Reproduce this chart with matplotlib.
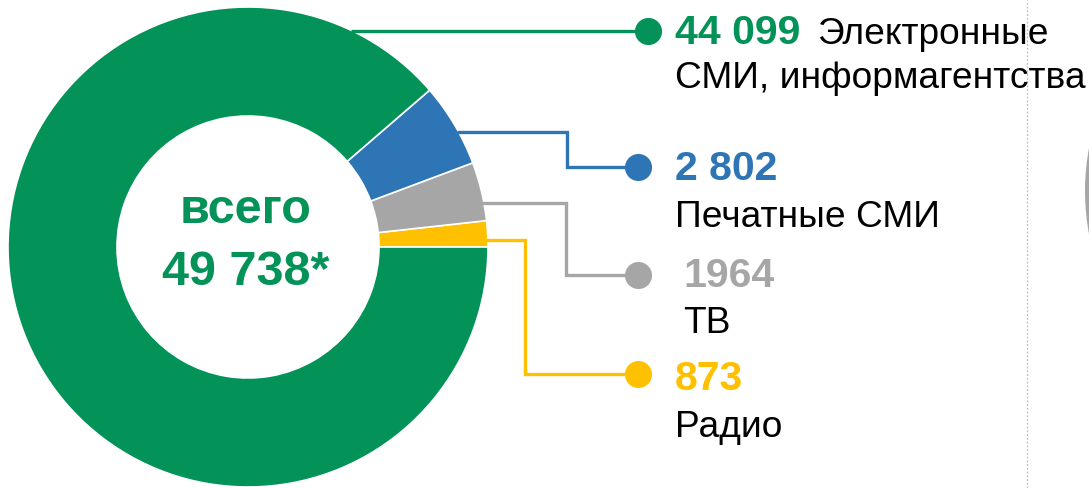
import matplotlib
matplotlib.use('Agg')
import matplotlib.pyplot as plt
import numpy as np

plt.rcParams['font.family'] = ['Liberation Sans', 'DejaVu Sans']

# data (yellow, gray, blue, green - counterclockwise from 3 o'clock)
labels = ['Радио', 'ТВ', 'Печатные СМИ', 'Электронные СМИ, информагентства']
values = [873, 1964, 2802, 44099]
value_labels = ['873', '1964', '2 802', '44 099']
colors = ['#FFC000', '#A6A6A6', '#2E75B6', '#039257']
total = sum(values)

W, H = 1089, 488
fig = plt.figure(figsize=(W / 100, H / 100), dpi=100)
ax = fig.add_axes([0, 0, 1, 1])

cx, cy = 248, H - 247
R, r = 240, 131

ax.pie(values, colors=colors, startangle=0, counterclock=True,
       radius=R, center=(cx, cy),
       wedgeprops=dict(width=R - r, edgecolor='white', linewidth=1.2))
ax.set_xlim(0, W)
ax.set_ylim(0, H)
ax.set_aspect('auto')
ax.axis('off')

# centre text
green = colors[3]
ax.text(cx - 2, H - 223, 'всего', ha='center', va='baseline',
        fontsize=35, fontweight='bold', color=green)
ax.text(cx - 2, H - 285, '{:,}*'.format(total).replace(',', ' '),
        ha='center', va='baseline', fontsize=35, fontweight='bold', color=green)

# leader lines: (line y at the donut edge, elbow x, dot y) in pixels from top
dot_x = [638, 638, 638, 648]
line_y = [240, 203, 132, 31]
elbow_x = [525, 566, 567, None]
dot_y = [374, 275, 167, 31]

for i in range(4):
    y0 = line_y[i]
    x0 = cx + np.sqrt(R ** 2 - (H - y0 - cy) ** 2) - 2
    if elbow_x[i] is None:
        xs = [x0, dot_x[i]]
        ys = [y0, y0]
    else:
        xs = [x0, elbow_x[i], elbow_x[i], dot_x[i]]
        ys = [y0, y0, dot_y[i], dot_y[i]]
    ax.plot(xs, [H - v for v in ys], color=colors[i], lw=2.4,
            solid_joinstyle='miter', solid_capstyle='butt')
    ax.plot(dot_x[i], H - dot_y[i], 'o', color=colors[i], ms=19.5, mec='none')

# labels
num_size = 29.5
txt_size = 26.7
ax.text(675, H - 390, value_labels[0], color=colors[0], fontsize=num_size,
        fontweight='bold', va='baseline')
ax.text(675, H - 437, labels[0], color='black', fontsize=txt_size, va='baseline')
ax.text(683, H - 287, value_labels[1], color=colors[1], fontsize=num_size,
        fontweight='bold', va='baseline')
ax.text(683, H - 333, labels[1], color='black', fontsize=txt_size, va='baseline')
ax.text(675, H - 180, value_labels[2], color=colors[2], fontsize=num_size,
        fontweight='bold', va='baseline')
ax.text(675, H - 227, labels[2], color='black', fontsize=txt_size, va='baseline')
ax.text(675, H - 44, value_labels[3], color=colors[3], fontsize=num_size,
        fontweight='bold', va='baseline')
ax.text(817, H - 44, 'Электронные', color='black', fontsize=txt_size, va='baseline')
ax.text(675, H - 88, 'СМИ, информагентства', color='black', fontsize=txt_size,
        va='baseline')

# dotted separator and the edge of the neighbouring chart
ax.plot([1027, 1027], [0, H], color='#BDBDBD', lw=0.9, ls=(0, (1.5, 1.5)))
ax.add_patch(plt.Circle((1085 + 233, H - 191), 233, color='#A6A6A6', lw=0))

fig.savefig('out.png', dpi=100)
